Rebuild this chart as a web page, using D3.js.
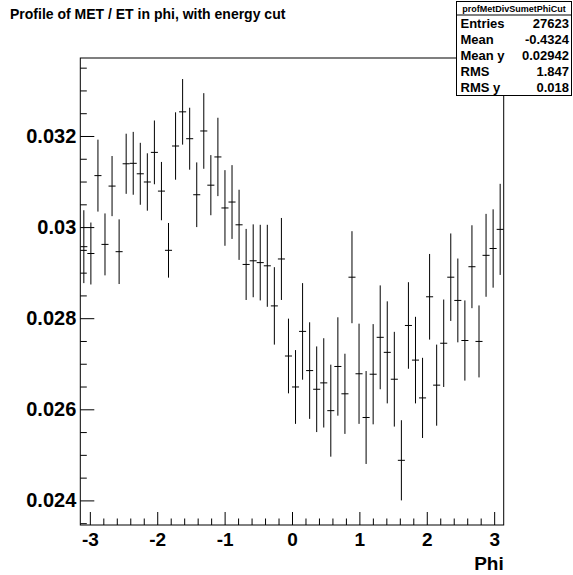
<!DOCTYPE html>
<html>
<head>
<meta charset="utf-8">
<script src="https://cdn.jsdelivr.net/npm/d3@7"></script>
<style>
	html, body { margin: 0; padding: 0; background: #fff; }
	svg { display: block; font-family: "Liberation Sans", Arial, sans-serif; font-weight: bold; }
</style>
</head>
<body>
<svg id="chart" width="573" height="575"></svg>
<script>
// profile of MET / ET vs phi, 60 bins from -pi to pi
const binCount = 60;
const meanY = [
	0.02957, 0.02942, 0.03113, 0.02962, 0.03090, 0.02946, 0.03139, 0.03140, 0.03117, 0.03099,
	0.03164, 0.03079, 0.02949, 0.03178, 0.03253, 0.03194, 0.03071, 0.03211, 0.03092, 0.03154,
	0.03042, 0.03055, 0.03005, 0.02918, 0.02926, 0.02922, 0.02915, 0.02827, 0.02930, 0.02717,
	0.02649, 0.02771, 0.02685, 0.02644, 0.02658, 0.02597, 0.02694, 0.02634, 0.02890, 0.02678,
	0.02582, 0.02677, 0.02758, 0.02725, 0.02666, 0.02488, 0.02784, 0.02708, 0.02625, 0.02847,
	0.02653, 0.02745, 0.02890, 0.02839, 0.02751, 0.02913, 0.02749, 0.02938, 0.02953, 0.02995
];
const errY = [
	0.00080, 0.00068, 0.00079, 0.00068, 0.00066, 0.00071, 0.00066, 0.00069, 0.00068, 0.00063,
	0.00070, 0.00064, 0.00060, 0.00074, 0.00072, 0.00068, 0.00071, 0.00083, 0.00066, 0.00086,
	0.00083, 0.00081, 0.00077, 0.00078, 0.00080, 0.00083, 0.00090, 0.00085, 0.00090, 0.00082,
	0.00081, 0.00106, 0.00106, 0.00094, 0.00098, 0.00101, 0.00108, 0.00088, 0.00101, 0.00110,
	0.00102, 0.00110, 0.00114, 0.00112, 0.00104, 0.00088, 0.00095, 0.00095, 0.00088, 0.00094,
	0.00089, 0.00096, 0.00096, 0.00092, 0.00088, 0.00091, 0.00079, 0.00091, 0.00086, 0.00100
];
const xTickValues = [-3, -2, -1, 0, 1, 2, 3];
const xTickLabels = ["-3", "-2", "-1", "0", "1", "2", "3"];
const yTickValues = [0.024, 0.026, 0.028, 0.030, 0.032];
const yTickLabels = ["0.024", "0.026", "0.028", "0.03", "0.032"];
const statNames = ["Entries", "Mean", "Mean y", "RMS", "RMS y"];
const statValues = ["27623", "-0.4324", "0.02942", "1.847", "0.018"];
const histName = "profMetDivSumetPhiCut";
const title = "Profile of MET / ET in phi, with energy cut";

const svg = d3.select("#chart");
const frame = {left: 80.3, right: 503.7, top: 58, bottom: 525};

const x = d3.scaleLinear().domain([-Math.PI, Math.PI]).range([frame.left, frame.right]);
const y = d3.scaleLinear().domain([0.02346, 0.033712]).range([frame.bottom, frame.top]);
const binW = 2 * Math.PI / binCount;

// title
svg.append("text")
	.attr("x", 10).attr("y", 19)
	.attr("font-size", "14px")
	.text(title);

// minor ticks
const xMinor = d3.range(-30, 31, 2).map(d => d / 10).filter(d => d % 1 !== 0);
const yMinor = d3.range(235, 336, 5).map(d => d / 10000).filter(d => Math.round(d * 10000) % 20 !== 0);

svg.append("g")
	.attr("transform", `translate(0, ${frame.bottom})`)
	.call(d3.axisBottom(x).tickValues(xMinor).tickSize(-6.5).tickFormat(""))
	.call(g => g.select(".domain").remove());
svg.append("g")
	.attr("transform", `translate(${frame.left}, 0)`)
	.call(d3.axisLeft(y).tickValues(yMinor).tickSize(-6.5).tickFormat(""))
	.call(g => g.select(".domain").remove());

// major ticks with labels
const xAxis = svg.append("g")
	.attr("transform", `translate(0, ${frame.bottom})`)
	.call(d3.axisBottom(x).tickValues(xTickValues).tickSize(-13).tickPadding(8)
		.tickFormat((d, i) => xTickLabels[i]));
xAxis.select(".domain").remove();
xAxis.selectAll("text").attr("font-size", "19px").attr("font-family", null).attr("fill", "#000");

const yAxis = svg.append("g")
	.attr("transform", `translate(${frame.left}, 0)`)
	.call(d3.axisLeft(y).tickValues(yTickValues).tickSize(-14).tickPadding(4)
		.tickFormat((d, i) => yTickLabels[i]));
yAxis.select(".domain").remove();
yAxis.selectAll("text").attr("font-size", "20px").attr("font-family", null).attr("fill", "#000");

svg.selectAll(".tick line").attr("stroke", "#000");

// axis title
svg.append("text")
	.attr("x", frame.right).attr("y", 570)
	.attr("text-anchor", "end")
	.attr("font-size", "19px")
	.text("Phi");

// frame
svg.append("rect")
	.attr("x", frame.left).attr("y", frame.top)
	.attr("width", frame.right - frame.left)
	.attr("height", frame.bottom - frame.top)
	.attr("fill", "none")
	.attr("stroke", "#000");

// error bars
svg.append("clipPath").attr("id", "plotclip")
	.append("rect")
	.attr("x", frame.left).attr("y", frame.top)
	.attr("width", frame.right - frame.left)
	.attr("height", frame.bottom - frame.top);

const bins = meanY.map((m, i) => ({
	lo: -Math.PI + i * binW,
	hi: -Math.PI + (i + 1) * binW,
	c: -Math.PI + (i + 0.5) * binW,
	m: m,
	e: errY[i]
}));

const pts = svg.append("g")
	.attr("clip-path", "url(#plotclip)")
	.attr("stroke", "#000")
	.attr("stroke-width", 1);

pts.selectAll("line.h")
	.data(bins)
	.enter()
	.append("line")
	.attr("class", "h")
	.attr("x1", d => x(d.lo)).attr("x2", d => x(d.hi))
	.attr("y1", d => y(d.m)).attr("y2", d => y(d.m));

pts.selectAll("line.v")
	.data(bins)
	.enter()
	.append("line")
	.attr("class", "v")
	.attr("x1", d => x(d.c)).attr("x2", d => x(d.c))
	.attr("y1", d => y(d.m - d.e)).attr("y2", d => y(d.m + d.e));

// stats box
const box = {left: 456.5, right: 571.5, top: 1.5, head: 15, bottom: 95.5};
const sb = svg.append("g");
sb.append("rect")
	.attr("x", box.left).attr("y", box.top)
	.attr("width", box.right - box.left)
	.attr("height", box.bottom - box.top)
	.attr("fill", "#fff")
	.attr("stroke", "#000");
sb.append("line")
	.attr("x1", box.left).attr("x2", box.right)
	.attr("y1", box.head).attr("y2", box.head)
	.attr("stroke", "#000");
sb.append("text")
	.attr("x", (box.left + box.right) / 2).attr("y", 11.5)
	.attr("text-anchor", "middle")
	.attr("font-size", "9px")
	.text(histName);

const rowH = (box.bottom - box.head) / statNames.length;
statNames.forEach((name, i) => {
	const by = box.head + rowH * (i + 0.5) + 4.5;
	sb.append("text")
		.attr("x", box.left + 4).attr("y", by)
		.attr("font-size", "13px")
		.text(name);
	sb.append("text")
		.attr("x", box.right - 2.5).attr("y", by)
		.attr("text-anchor", "end")
		.attr("font-size", "13px")
		.text(statValues[i]);
});
</script>
</body>
</html>
